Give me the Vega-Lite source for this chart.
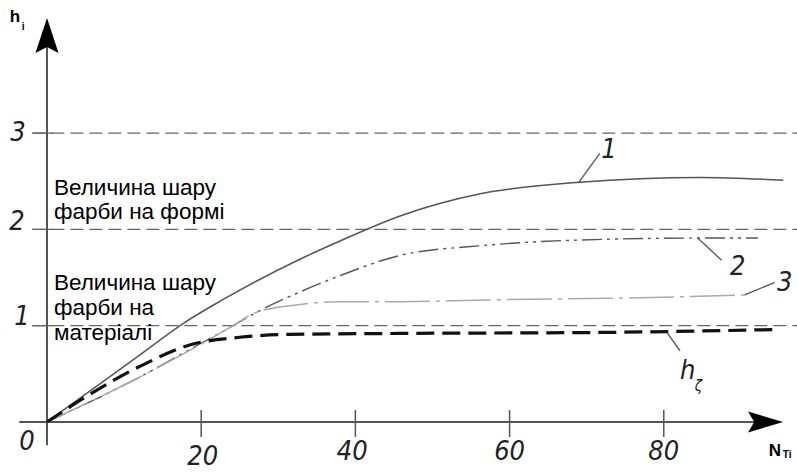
{
  "$schema": "https://vega.github.io/schema/vega-lite/v6.json",
  "width": 797,
  "height": 472,
  "autosize": {"type": "none"},
  "padding": 0,
  "background": "white",
  "config": {"view": {"stroke": null}},
  "datasets": {
    "c1": [{"x":0,"y":0},{"x":7.8,"y":0.45},{"x":12.1,"y":0.7},{"x":17.6,"y":1.02},{"x":22.8,"y":1.27},{"x":32.8,"y":1.69},{"x":38.0,"y":1.88},{"x":45.8,"y":2.14},{"x":56.2,"y":2.37},{"x":69.1,"y":2.49},{"x":84.7,"y":2.54},{"x":95.5,"y":2.51}],
    "c2": [{"x":0,"y":0},{"x":12.1,"y":0.47},{"x":19.8,"y":0.81},{"x":23.7,"y":0.98},{"x":27.2,"y":1.14},{"x":32.8,"y":1.35},{"x":38.0,"y":1.52},{"x":45.8,"y":1.73},{"x":56.2,"y":1.83},{"x":69.1,"y":1.89},{"x":84.7,"y":1.91},{"x":92.2,"y":1.91}],
    "c3": [{"x":0,"y":0},{"x":12.1,"y":0.47},{"x":19.8,"y":0.8},{"x":23.7,"y":0.98},{"x":27.2,"y":1.14},{"x":32.8,"y":1.22},{"x":38.0,"y":1.25},{"x":45.8,"y":1.25},{"x":58.8,"y":1.27},{"x":76.9,"y":1.29},{"x":90.5,"y":1.32}],
    "hc": [{"x":0,"y":0},{"x":5.6,"y":0.29},{"x":12.1,"y":0.58},{"x":18.5,"y":0.8},{"x":25.0,"y":0.88},{"x":31.5,"y":0.91},{"x":45.8,"y":0.92},{"x":71.7,"y":0.93},{"x":94.4,"y":0.96}]
  },
  "encoding": {
    "x": {"field": "x", "type": "quantitative", "scale": {"domain": [-6.096, 97.28], "nice": false, "zero": false}, "axis": null},
    "y": {"field": "y", "type": "quantitative", "scale": {"domain": [-0.519, 4.382], "nice": false, "zero": false}, "axis": null}
  },
  "layer": [
    {
      "data": {"values": [{"x":-1.9,"x2":97.28,"y":1},{"x":-1.9,"x2":97.28,"y":2},{"x":-1.9,"x2":97.28,"y":3}]},
      "mark": {"type": "rule", "color": "#666", "strokeWidth": 1.3, "strokeDash": [13, 6]},
      "encoding": {"x2": {"field": "x2"}}
    },
    {
      "data": {"values": [{"x":-1.9,"x2":0.8,"y":1},{"x":-1.9,"x2":0.8,"y":2},{"x":-1.9,"x2":0.8,"y":3}]},
      "mark": {"type": "rule", "color": "#666", "strokeWidth": 1.3},
      "encoding": {"x2": {"field": "x2"}}
    },
    {
      "data": {"values": [{"x":0,"x2":0,"y":-0.24,"y2":3.95},{"x":-3.6,"x2":92.5,"y":0,"y2":0}]},
      "mark": {"type": "rule", "color": "#555", "strokeWidth": 2},
      "encoding": {"x2": {"field": "x2"}, "y2": {"field": "y2"}}
    },
    {
      "data": {"values": [{"x":20,"y":0.125,"y2":-0.156},{"x":40,"y":0.125,"y2":-0.156},{"x":60,"y":0.125,"y2":-0.156},{"x":80,"y":0.125,"y2":-0.156}]},
      "mark": {"type": "rule", "color": "#555", "strokeWidth": 1.5},
      "encoding": {"y2": {"field": "y2"}}
    },
    {
      "data": {"values": [{"x":0,"y":4.013}]},
      "mark": {"type": "point", "filled": true, "color": "#000", "opacity": 1, "size": 1225, "shape": "M0,-1L0.66,1L0,0.65L-0.66,1Z"}
    },
    {
      "data": {"values": [{"x":93.2,"y":0}]},
      "mark": {"type": "point", "filled": true, "color": "#000", "opacity": 1, "size": 1225, "shape": "M1,0L-1,0.6L-0.65,0L-1,-0.6Z"}
    },
    {
      "data": {"name": "c1"},
      "mark": {"type": "line", "color": "#555", "strokeWidth": 1.5, "interpolate": "monotone"}
    },
    {
      "data": {"name": "c2"},
      "mark": {"type": "line", "color": "#555", "strokeWidth": 1.4, "interpolate": "monotone", "strokeDash": [20, 5, 3, 5, 3, 5]}
    },
    {
      "data": {"name": "c3"},
      "mark": {"type": "line", "color": "#aaa", "strokeWidth": 1.5, "interpolate": "monotone", "strokeDash": [45, 6, 4, 6]}
    },
    {
      "data": {"name": "hc"},
      "mark": {"type": "line", "color": "#111", "strokeWidth": 3.2, "interpolate": "monotone", "strokeDash": [18, 8]}
    },
    {
      "data": {"values": [{"x":69.0,"y":2.49,"x2":71.7,"y2":2.79},{"x":84.4,"y":1.91,"x2":87.5,"y2":1.68},{"x":90.5,"y":1.32,"x2":94.4,"y2":1.45},{"x":80.4,"y":0.93,"x2":82.1,"y2":0.74}]},
      "mark": {"type": "rule", "color": "#555", "strokeWidth": 1.3},
      "encoding": {"x2": {"field": "x2"}, "y2": {"field": "y2"}}
    },
    {
      "data": {"values": [
        {"x":-3.76,"y":3.0,"label":"3"},{"x":-3.89,"y":2.08,"label":"2"},{"x":-3.24,"y":1.09,"label":"1"},{"x":-2.59,"y":-0.21,"label":"0"},
        {"x":20.2,"y":-0.36,"label":"20"},{"x":39.6,"y":-0.31,"label":"40"},{"x":60.0,"y":-0.31,"label":"60"},{"x":80.0,"y":-0.31,"label":"80"},
        {"x":72.9,"y":2.82,"label":"1"},{"x":89.6,"y":1.61,"label":"2"},{"x":95.7,"y":1.44,"label":"3"},{"x":83.1,"y":0.53,"label":"h"}
      ]},
      "mark": {"type": "text", "font": "DejaVu Sans Condensed, Liberation Sans, sans-serif", "fontStyle": "italic", "fontSize": 27, "color": "#222", "align": "center", "baseline": "middle"},
      "encoding": {"text": {"field": "label"}}
    },
    {
      "data": {"values": [{"x":84.5,"y":0.37,"label":"ζ"}]},
      "mark": {"type": "text", "font": "DejaVu Sans Condensed, Liberation Sans, sans-serif", "fontStyle": "italic", "fontSize": 15, "color": "#222", "align": "center", "baseline": "middle"},
      "encoding": {"text": {"field": "label"}}
    },
    {
      "data": {"values": [
        {"x":0.9,"y":2.43,"label":"Величина шару"},{"x":0.9,"y":2.18,"label":"фарби на формі"},
        {"x":0.9,"y":1.44,"label":"Величина шару"},{"x":0.9,"y":1.18,"label":"фарби на"},{"x":0.9,"y":0.92,"label":"матеріалі"}
      ]},
      "mark": {"type": "text", "font": "Liberation Sans", "fontSize": 22.5, "color": "#000", "align": "left", "baseline": "middle"},
      "encoding": {"text": {"field": "label"}}
    },
    {
      "data": {"values": [{"x":-4.15,"y":4.21,"label":"h"},{"x":94.4,"y":-0.3,"label":"N"}]},
      "mark": {"type": "text", "font": "Liberation Sans", "fontWeight": "bold", "fontSize": 17, "color": "#000", "align": "center", "baseline": "middle"},
      "encoding": {"text": {"field": "label"}}
    },
    {
      "data": {"values": [{"x":-3.11,"y":4.1,"label":"i"},{"x":96.0,"y":-0.34,"label":"Ti"}]},
      "mark": {"type": "text", "font": "Liberation Sans", "fontWeight": "bold", "fontSize": 10, "color": "#000", "align": "center", "baseline": "middle"},
      "encoding": {"text": {"field": "label"}}
    }
  ]
}
